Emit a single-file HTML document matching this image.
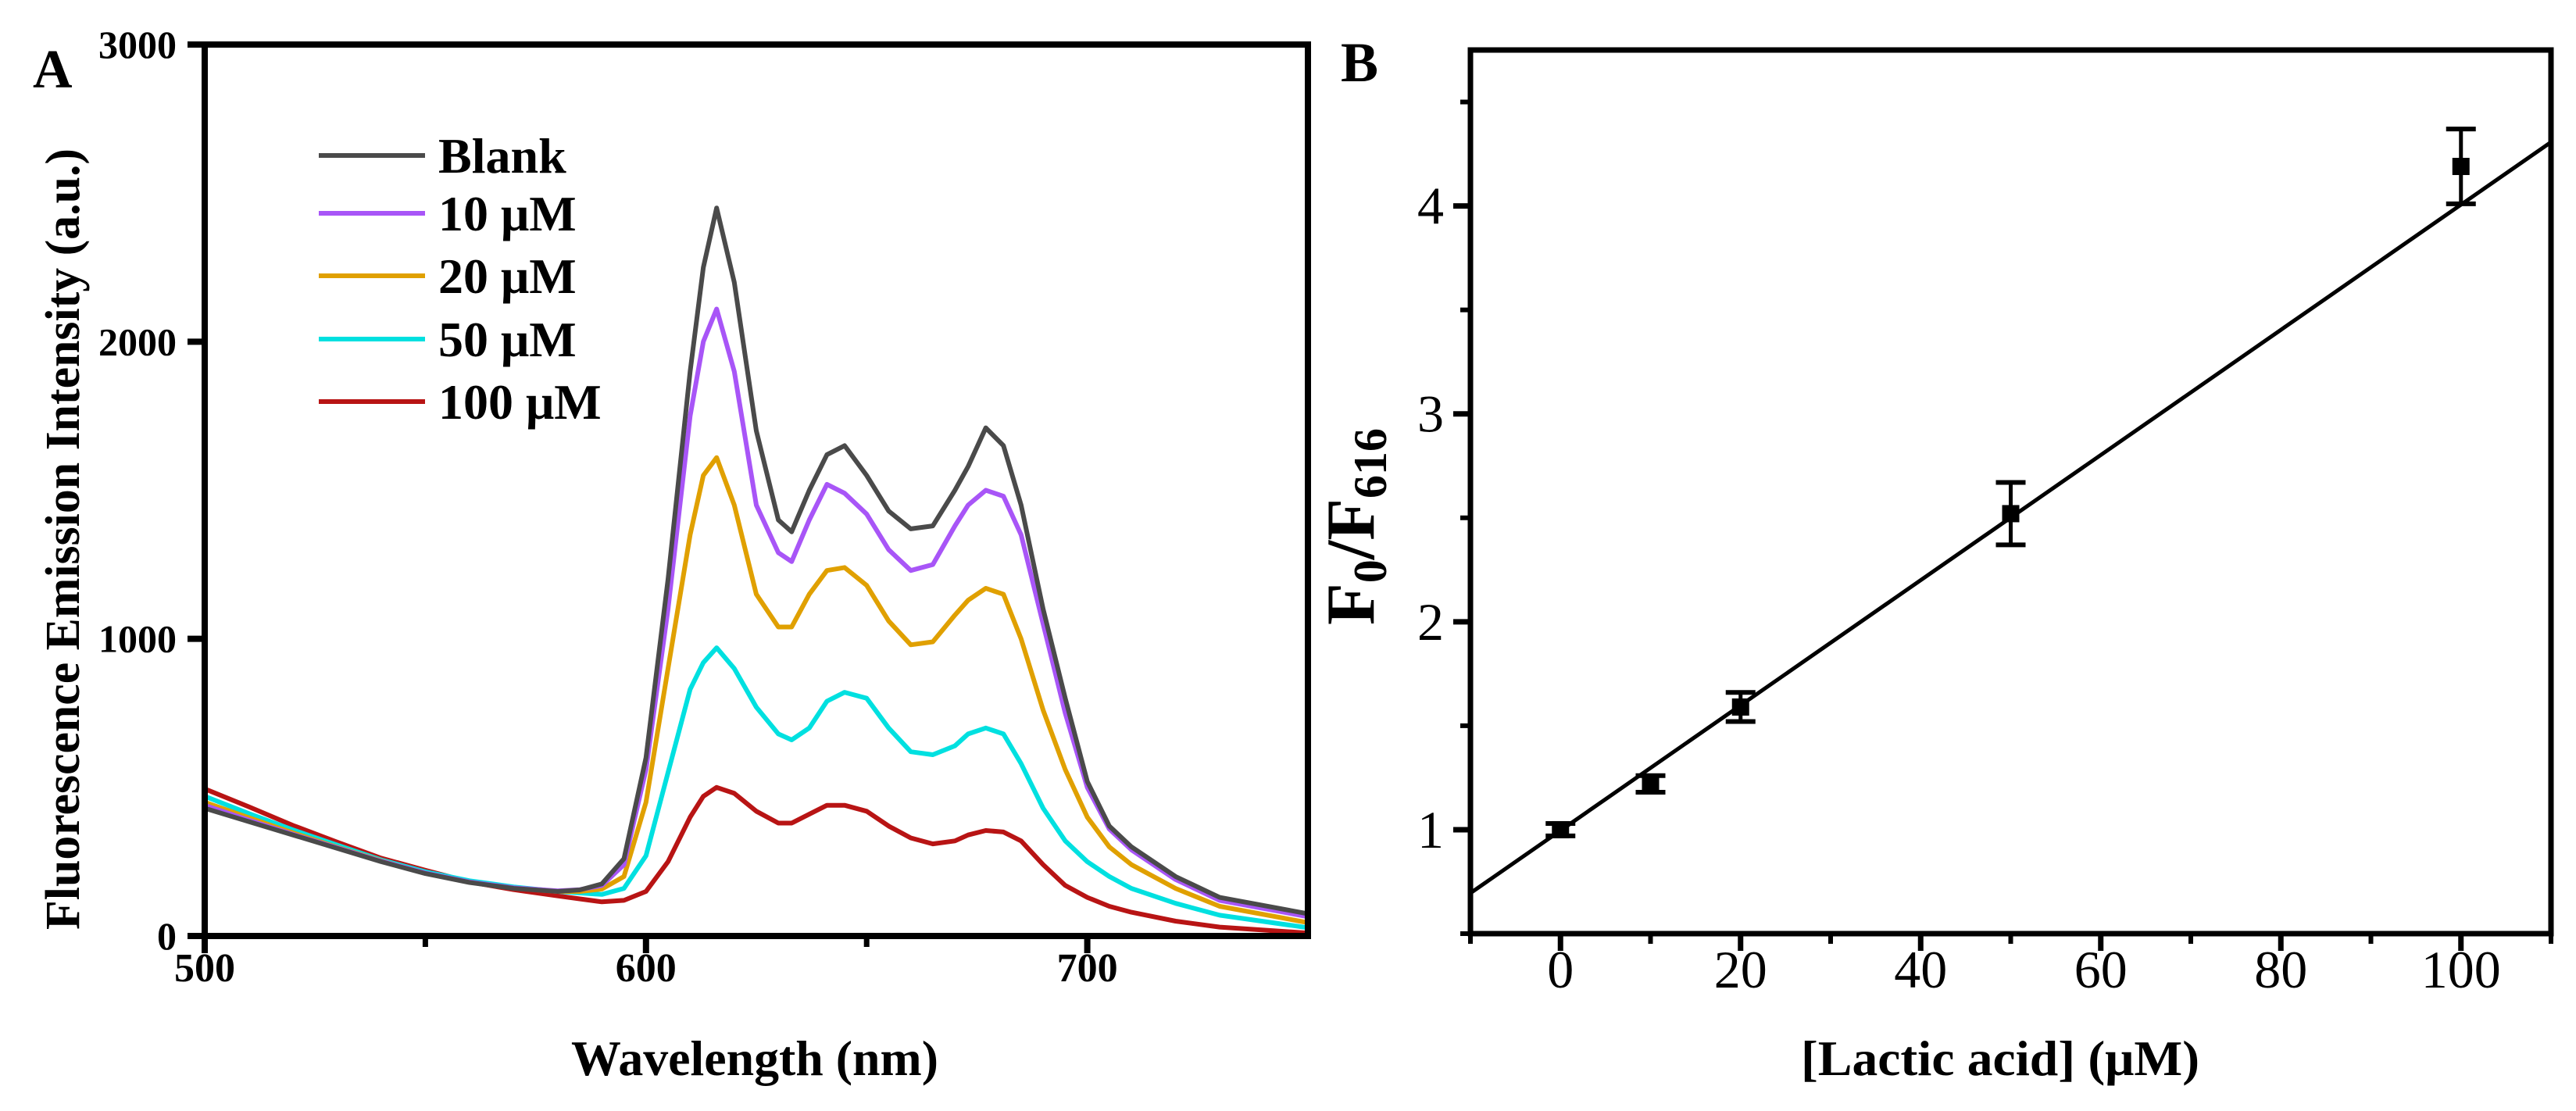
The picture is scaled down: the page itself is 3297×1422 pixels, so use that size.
<!DOCTYPE html>
<html><head><meta charset="utf-8"><style>
html,body{margin:0;padding:0;background:#fff;}
svg{display:block;}
text{font-family:"Liberation Serif","DejaVu Serif",serif;fill:#000;}
</style></head><body>
<svg id="fig" width="3297" height="1422" viewBox="0 0 3297 1422" xmlns="http://www.w3.org/2000/svg">
<rect x="0" y="0" width="3297" height="1422" fill="#fff"/>
<g id="pa"></g>
<g id="pb"></g>
</svg>
<script>
// ---------- Panel A data ----------
const wavelengths = [500,510,520,530,540,550,560,570,580,585,590,595,600,605,610,613,616,620,625,630,633,637,641,645,650,655,660,665,670,673,677,681,685,690,695,700,705,710,720,730,750];
const blankVals = [430,385,340,295,250,210,180,160,150,155,175,260,600,1200,1900,2250,2450,2200,1700,1400,1360,1500,1620,1650,1550,1430,1370,1380,1500,1580,1710,1650,1450,1100,800,520,370,300,200,130,75];
const uM10Vals = [440,390,342,297,252,212,182,162,152,156,170,240,560,1100,1750,2000,2110,1900,1450,1290,1260,1400,1520,1490,1420,1300,1230,1250,1380,1450,1500,1480,1350,1050,750,500,360,290,190,120,65];
const uM20Vals = [450,398,347,299,253,211,181,161,150,150,158,200,450,900,1350,1550,1610,1450,1150,1040,1040,1150,1230,1240,1180,1060,980,990,1080,1130,1170,1150,1000,760,560,400,300,240,160,100,45];
const uM50Vals = [470,412,357,306,256,216,186,165,150,145,140,160,270,550,830,920,970,900,770,680,660,700,790,820,800,700,620,610,640,680,700,680,580,430,320,250,200,160,110,70,28];
const uM100Vals = [495,435,372,316,262,221,182,156,135,125,115,120,150,250,400,470,500,480,420,380,380,410,440,440,420,370,330,310,320,340,355,350,320,240,170,130,100,80,50,30,10];
const seriesNames = ["Blank","10 μM","20 μM","50 μM","100 μM"];
const seriesColors = ["#4a4a4a","#a855f7","#e0a000","#00e0e0","#b81414"];
const xTicksA = [500,600,700];
const xMinorA = [550,650];
const yTicksA = [0,1000,2000,3000];

// ---------- Panel B data ----------
const concs = [0,10,20,50,100];
const ratios = [1.0,1.22,1.59,2.52,4.19];
const ratioErr = [0.03,0.04,0.07,0.15,0.18];
const fitSlope = 0.0301;
const fitIntercept = 0.996;
const xTicksB = [0,20,40,60,80,100];
const xMinorB = [-10,10,30,50,70,90,110];
const yTicksB = [1,2,3,4];
const yMinorB = [0.5,1.5,2.5,3.5,4.5];

const NS = "http://www.w3.org/2000/svg";
function mk(parent, tag, attrs, txt){
  const e = document.createElementNS(NS, tag);
  for (const k in attrs) e.setAttribute(k, attrs[k]);
  if (txt !== undefined) e.textContent = txt;
  parent.appendChild(e);
  return e;
}

// ===== Panel A =====
const pa = document.getElementById('pa');
const A = {l:262, r:1674, t:57, b:1198, x0:500, x1:750, y0:0, y1:3000};
const xA = v => A.l + (v - A.x0) / (A.x1 - A.x0) * (A.r - A.l);
const yA = v => A.b - (v - A.y0) / (A.y1 - A.y0) * (A.b - A.t);

const clipA = mk(pa, 'clipPath', {id:'clipA'});
mk(clipA, 'rect', {x:A.l, y:A.t, width:A.r-A.l, height:A.b-A.t});

const allSeries = [blankVals, uM10Vals, uM20Vals, uM50Vals, uM100Vals];
const drawOrder = [4,3,2,1,0];
for (const si of drawOrder) {
  const vals = allSeries[si];
  let d = '';
  wavelengths.forEach((w,i) => { d += (i ? 'L' : 'M') + xA(w).toFixed(1) + ',' + yA(vals[i]).toFixed(1); });
  const p = mk(pa, 'path', {d:d, fill:'none', stroke:seriesColors[si], 'stroke-width':6, 'stroke-linejoin':'round', 'clip-path':'url(#clipA)'});
  
  
}

const frA = mk(pa, 'rect', {x:A.l, y:A.t, width:A.r-A.l, height:A.b-A.t, fill:'none', stroke:'#000', 'stroke-width':8});



xTicksA.forEach(v => {
  const t = mk(pa, 'line', {x1:xA(v), x2:xA(v), y1:A.b, y2:A.b+22, stroke:'#000', 'stroke-width':8});
  
  
  const lb = mk(pa, 'text', {x:xA(v), y:1256, 'font-size':52, 'font-weight':'bold', 'text-anchor':'middle'}, String(v));
  
  
});
xMinorA.forEach(v => {
  const t = mk(pa, 'line', {x1:xA(v), x2:xA(v), y1:A.b, y2:A.b+14, stroke:'#000', 'stroke-width':7});
  
  
});
yTicksA.forEach(v => {
  const t = mk(pa, 'line', {x1:A.l-22, x2:A.l, y1:yA(v), y2:yA(v), stroke:'#000', 'stroke-width':8});
  
  
  const lb = mk(pa, 'text', {x:226, y:yA(v)+17, 'font-size':50, 'font-weight':'bold', 'text-anchor':'end'}, String(v));
  
  
});

const legY = [199,273,353,434,514];
seriesNames.forEach((n,i) => {
  const g = mk(pa, 'g', {});
  
  
  mk(g, 'line', {x1:408, x2:544, y1:legY[i], y2:legY[i], stroke:seriesColors[i], 'stroke-width':6});
  mk(g, 'text', {x:561, y:legY[i]+22, 'font-size':64, 'font-weight':'bold'}, n);
});

const tA = mk(pa, 'text', {x:42, y:112, 'font-size':70, 'font-weight':'bold'}, 'A');


const xtA = mk(pa, 'text', {x:966, y:1376, 'font-size':64, 'font-weight':'bold', 'text-anchor':'middle', textLength:470, lengthAdjust:'spacingAndGlyphs'}, 'Wavelength (nm)');


const ytA = mk(pa, 'text', {x:0, y:0, 'font-size':62, 'font-weight':'bold', 'text-anchor':'middle', transform:'translate(101,690) rotate(-90)', textLength:1000, lengthAdjust:'spacingAndGlyphs'}, 'Fluorescence Emission Intensity (a.u.)');



// ===== Panel B =====
const pb = document.getElementById('pb');
const B = {l:1882, r:3265, t:64, b:1195, x0:-10, x1:110, y0:0.5, y1:4.75};
const xB = v => B.l + (v - B.x0) / (B.x1 - B.x0) * (B.r - B.l);
const yB = v => B.b - (v - B.y0) / (B.y1 - B.y0) * (B.b - B.t);

const fit = mk(pb, 'line', {x1:xB(B.x0), y1:yB(fitIntercept + fitSlope*B.x0), x2:xB(B.x1), y2:yB(fitIntercept + fitSlope*B.x1), stroke:'#000', 'stroke-width':5});



concs.forEach((c,i) => {
  const g = mk(pb, 'g', {});
  
  
  const x = xB(c), yt = yB(ratios[i]+ratioErr[i]), yb = yB(ratios[i]-ratioErr[i]);
  mk(g, 'line', {x1:x, x2:x, y1:yt, y2:yb, stroke:'#000', 'stroke-width':5});
  mk(g, 'line', {x1:x-19, x2:x+19, y1:yt, y2:yt, stroke:'#000', 'stroke-width':6});
  mk(g, 'line', {x1:x-19, x2:x+19, y1:yb, y2:yb, stroke:'#000', 'stroke-width':6});
  mk(g, 'rect', {x:x-11, y:yB(ratios[i])-11, width:22, height:22, fill:'#000'});
});

const frB = mk(pb, 'rect', {x:B.l, y:B.t, width:B.r-B.l, height:B.b-B.t, fill:'none', stroke:'#000', 'stroke-width':7});



xTicksB.forEach(v => {
  const t = mk(pb, 'line', {x1:xB(v), x2:xB(v), y1:B.b, y2:B.b+22, stroke:'#000', 'stroke-width':7});
  
  
  const lb = mk(pb, 'text', {x:xB(v), y:1264, 'font-size':68, 'text-anchor':'middle'}, String(v));
  
  
});
xMinorB.forEach(v => {
  const t = mk(pb, 'line', {x1:xB(v), x2:xB(v), y1:B.b, y2:B.b+13, stroke:'#000', 'stroke-width':6});
  
  
});
yTicksB.forEach(v => {
  const t = mk(pb, 'line', {x1:B.l-22, x2:B.l, y1:yB(v), y2:yB(v), stroke:'#000', 'stroke-width':7});
  
  
  const lb = mk(pb, 'text', {x:1848, y:yB(v)+23, 'font-size':68, 'text-anchor':'end'}, String(v));
  
  
});
yMinorB.forEach(v => {
  const t = mk(pb, 'line', {x1:B.l-13, x2:B.l, y1:yB(v), y2:yB(v), stroke:'#000', 'stroke-width':6});
  
  
});

const tB = mk(pb, 'text', {x:1716, y:104, 'font-size':72, 'font-weight':'bold'}, 'B');


const xtB = mk(pb, 'text', {x:2560, y:1376, 'font-size':64, 'font-weight':'bold', 'text-anchor':'middle', textLength:510, lengthAdjust:'spacingAndGlyphs'}, '[Lactic acid] (μM)');


const ytB = mk(pb, 'text', {x:0, y:0, 'font-size':88, 'font-weight':'bold', transform:'translate(1758,800) rotate(-90)'});


mk(ytB, 'tspan', {}, 'F');
mk(ytB, 'tspan', {dy:16, 'font-size':60}, '0');
mk(ytB, 'tspan', {dy:-16}, '/F');
mk(ytB, 'tspan', {dy:16, 'font-size':60}, '616');
</script>
</body></html>
